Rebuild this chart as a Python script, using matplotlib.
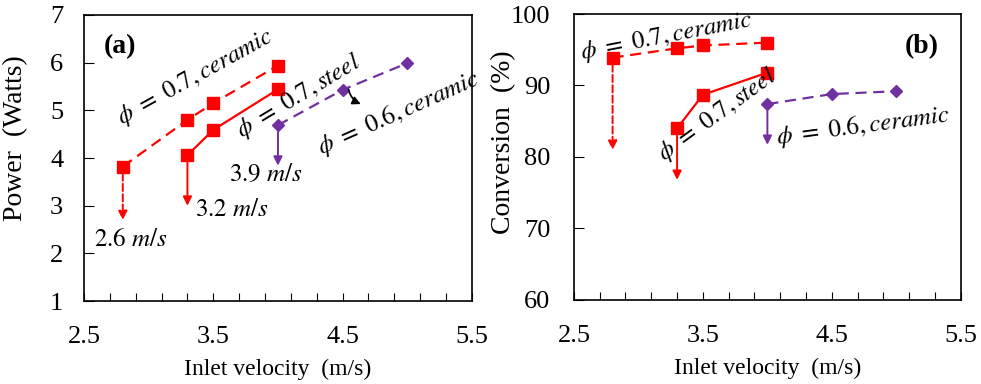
import matplotlib
matplotlib.use('Agg')
import matplotlib.pyplot as plt

plt.rcParams['font.family'] = ['Liberation Serif', 'DejaVu Serif']
plt.rcParams['mathtext.fontset'] = 'stix'

# inlet velocity (m/s)
v_ceramic07 = [2.8, 3.3, 3.5, 4.0]
v_steel07 = [3.3, 3.5, 4.0]
v_ceramic06 = [4.0, 4.5, 5.0]

# (a) power (W)
p_ceramic07 = [3.82, 4.80, 5.15, 5.94]
p_steel07 = [4.06, 4.59, 5.44]
p_ceramic06 = [4.69, 5.43, 5.99]

# (b) conversion (%)
c_ceramic07 = [93.9, 95.2, 95.6, 96.0]
c_steel07 = [84.0, 88.7, 91.8]
c_ceramic06 = [87.4, 88.8, 89.2]

# limit arrows (end value of each arrow)
p_arrow_end = [2.70, 3.00, 3.84]
c_arrow_end = [81.0, 76.8, 81.7]

red = '#FF0000'
purple = '#7030A0'
mfs = 18

fig = plt.figure(figsize=(9.81, 3.84), dpi=100)
ax1 = fig.add_axes([0.0856, 0.216, 0.3955, 0.745])
ax2 = fig.add_axes([0.585, 0.219, 0.3945, 0.7445])


def draw(ax, yc, ys, y6, yend):
    ax.plot(v_ceramic07, yc, '--', color=red, lw=1.6, dashes=(5, 3),
            marker='s', ms=8, zorder=3)
    ax.plot(v_steel07, ys, '-', color=red, lw=1.6, marker='s', ms=8, zorder=3)
    ax.plot(v_ceramic06, y6, '--', color=purple, lw=1.6, dashes=(5, 3),
            marker='D', ms=6.5, zorder=3)
    starts = [(v_ceramic07[0], yc[0], red, '--'),
              (v_steel07[0], ys[0], red, '-'),
              (v_ceramic06[0], y6[0], purple, '-')]
    for (x, y0, col, ls), y1 in zip(starts, yend):
        ax.annotate('', xy=(x, y1), xytext=(x, y0),
                    arrowprops=dict(arrowstyle='-|>', color=col, lw=1.4,
                                    linestyle=ls, mutation_scale=13,
                                    shrinkA=5, shrinkB=0))
    ax.set_xlim(2.5, 5.5)
    xt = [2.5 + 0.2 * i for i in range(16)]
    ax.set_xticks(xt)
    ax.set_xticklabels(['%.1f' % t if i % 5 == 0 else '' for i, t in enumerate(xt)])
    ax.tick_params(axis='x', direction='in', length=6, pad=18, labelsize=19)
    ax.tick_params(axis='y', direction='in', length=7, pad=15, labelsize=19)
    ax.set_xlabel('Inlet velocity  (m/s)', fontsize=17, labelpad=8)
    for s in ax.spines.values():
        s.set_linewidth(1.2)


draw(ax1, p_ceramic07, p_steel07, p_ceramic06, p_arrow_end)
ax1.set_ylim(1, 7)
ax1.set_yticks(range(1, 8))
ax1.set_ylabel('Power  (Watts)', fontsize=20)
ax1.yaxis.set_label_coords(-0.145, 0.57)
ax1.text(2.78, 6.33, '(a)', fontsize=20, fontweight='bold', ha='center', va='center')
ax1.text(3.36, 5.70, r'$\phi\ =\ 0.7, ceramic$', fontsize=mfs, rotation=29,
         ha='center', va='center')
ax1.text(4.16, 5.30, r'$\phi\ =\ 0.7, steel$', fontsize=mfs, rotation=31,
         ha='center', va='center')
ax1.text(4.93, 4.94, r'$\phi\ =\ 0.6, ceramic$', fontsize=mfs, rotation=24,
         ha='center', va='center')
ax1.text(2.58, 2.28, r'$2.6\ m/s$', fontsize=mfs, ha='left', va='center')
ax1.text(3.36, 2.90, r'$3.2\ m/s$', fontsize=mfs, ha='left', va='center')
ax1.text(3.62, 3.64, r'$3.9\ m/s$', fontsize=mfs, ha='left', va='center')
ax1.annotate('', xy=(4.66, 5.11), xytext=(4.54, 5.50),
             arrowprops=dict(arrowstyle='-|>', color='black', lw=1.2,
                             connectionstyle='arc3,rad=0.3', mutation_scale=12))

draw(ax2, c_ceramic07, c_steel07, c_ceramic06, c_arrow_end)
ax2.set_ylim(60, 100)
ax2.set_yticks(range(60, 101, 10))
ax2.tick_params(axis='y', pad=17)
ax2.set_ylabel('Conversion  (%)', fontsize=20)
ax2.yaxis.set_label_coords(-0.148, 0.55)
ax2.text(5.2, 95.4, '(b)', fontsize=20, fontweight='bold', ha='center', va='center')
ax2.text(3.22, 96.8, r'$\phi\ =\ 0.7, ceramic$', fontsize=mfs, rotation=11,
         ha='center', va='center')
ax2.text(3.61, 85.9, r'$\phi\ =\ 0.7, steel$', fontsize=mfs, rotation=36,
         ha='center', va='center')
ax2.text(4.74, 84.3, r'$\phi\ =\ 0.6, ceramic$', fontsize=mfs, rotation=7.5,
         ha='center', va='center')

fig.savefig('out.png', dpi=100)
